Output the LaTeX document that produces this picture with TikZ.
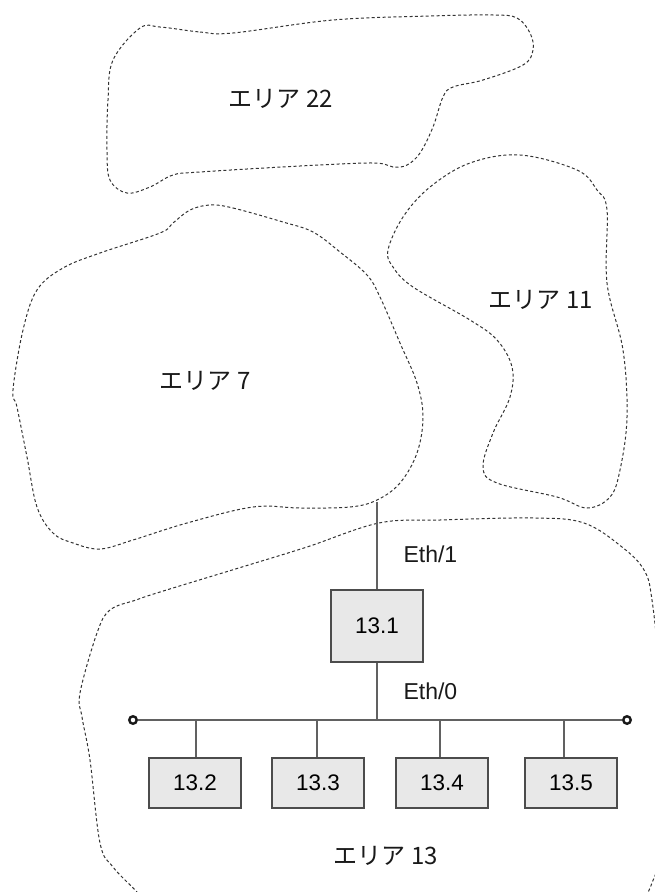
\documentclass[tikz,border=0pt]{standalone}
\usepackage{fontspec}
\setmainfont{Liberation Sans}
\newfontfamily\jpfont{Noto Sans CJK JP}
\begin{document}
\begin{tikzpicture}[x=1pt,y=-1pt,
  area/.style={draw=black!80, line width=1pt, dash pattern=on 3pt off 2.4pt},
  dev/.style={draw=black!70, fill=black!9, line width=1.1pt, minimum width=92pt, inner sep=0pt, font=\fontsize{22.5}{24}\selectfont},
  wire/.style={draw=black!62, line width=1.3pt},
  arealabel/.style={font=\jpfont\fontsize{24}{26}\selectfont, text=black!90},
  ethlabel/.style={font=\fontsize{23}{25}\selectfont, text=black!90, anchor=west},
  term/.style={circle, draw=black!90, line width=2.4pt, fill=white, minimum size=7.5pt, inner sep=0pt}]
\useasboundingbox (0,0) rectangle (655,892);

% Area 22
\draw[area] plot[smooth cycle, tension=0.6] coordinates {
 (160,27) (200,32) (233,33) (333,20) (430,16) (493,15) (517,18) (530,33) (533,50)
 (523,65) (483,80) (453,87) (443,97) (433,127) (420,153) (407,165) (393,167) (373,163)
 (300,166) (200,172) (173,175) (150,187) (127,193) (110,180) (107,150) (108,100) (113,60) (140,28)};

% Area 7
\draw[area] plot[smooth cycle, tension=0.6] coordinates {
 (210,205) (233,208) (283,222) (313,232) (340,252) (367,275) (380,297) (400,343)
 (417,383) (423,417) (417,453) (400,483) (377,500) (350,507) (300,508) (253,507)
 (187,523) (133,540) (100,549) (73,543) (53,533) (37,507) (27,457) (17,407) (13,390)
 (23,330) (37,290) (63,268) (100,253) (160,233) (173,223) (190,210)};

% Area 11
\draw[area] plot[smooth cycle, tension=0.6] coordinates {
 (520,155) (577,170) (597,190) (607,210) (607,283) (623,350) (627,417) (620,470)
 (610,497) (587,508) (557,497) (497,483) (483,467) (493,433) (510,397) (512,367)
 (497,340) (470,320) (413,287) (393,267) (388,250) (403,217) (430,187) (470,163)};

% Area 13 (clipped at the picture edge)
\begin{scope}
\clip (0,0) rectangle (655,892);
\draw[area] plot[smooth, tension=0.6] coordinates {
 (152,910) (137,892) (113,867) (100,843) (90,760) (82,717) (80,693) (97,633) (110,610)
 (136,600) (160,592) (242,567) (307,547) (379,523) (440,520) (534,518) (584,523)
 (622,547) (644,570) (652,600) (660,680) (664,780) (658,860) (652,883) (642,905)};
\end{scope}

% Area labels
\node[arealabel] (l22) at (281,99) {エリア 22};
\node[arealabel] (l7) at (205,381) {エリア 7};
\node[arealabel] (l11) at (541,300) {エリア 11};
\node[arealabel] (l13) at (386,856) {エリア 13};

% Router 13.1
\node[dev, minimum height=72pt] (n131) at (377,626) {13.1};
\coordinate (t7) at (377,502);
\draw[wire] (t7) -- (n131);
\node[ethlabel] (e1) at (400,554) {Eth/1};
\node[ethlabel] (e0) at (400,691) {Eth/0};

% Bus
\node[term] (tl) at (133,720) {};
\node[term] (tr) at (627,720) {};
\draw[wire] (tl) -- (tr);
\coordinate (j0) at (377,720);
\draw[wire] (n131) -- (j0);

% Hosts
\node[dev, minimum height=50pt] (n132) at (195,783) {13.2};
\node[dev, minimum height=50pt] (n133) at (318,783) {13.3};
\node[dev, minimum height=50pt] (n134) at (442,783) {13.4};
\node[dev, minimum height=50pt] (n135) at (571,783) {13.5};
\coordinate (d2) at (196,720);
\coordinate (d3) at (317,720);
\coordinate (d4) at (440,720);
\coordinate (d5) at (564,720);
\draw[wire] (d2) -- (d2 |- n132.north);
\draw[wire] (d3) -- (d3 |- n133.north);
\draw[wire] (d4) -- (d4 |- n134.north);
\draw[wire] (d5) -- (d5 |- n135.north);
\end{tikzpicture}
\end{document}
